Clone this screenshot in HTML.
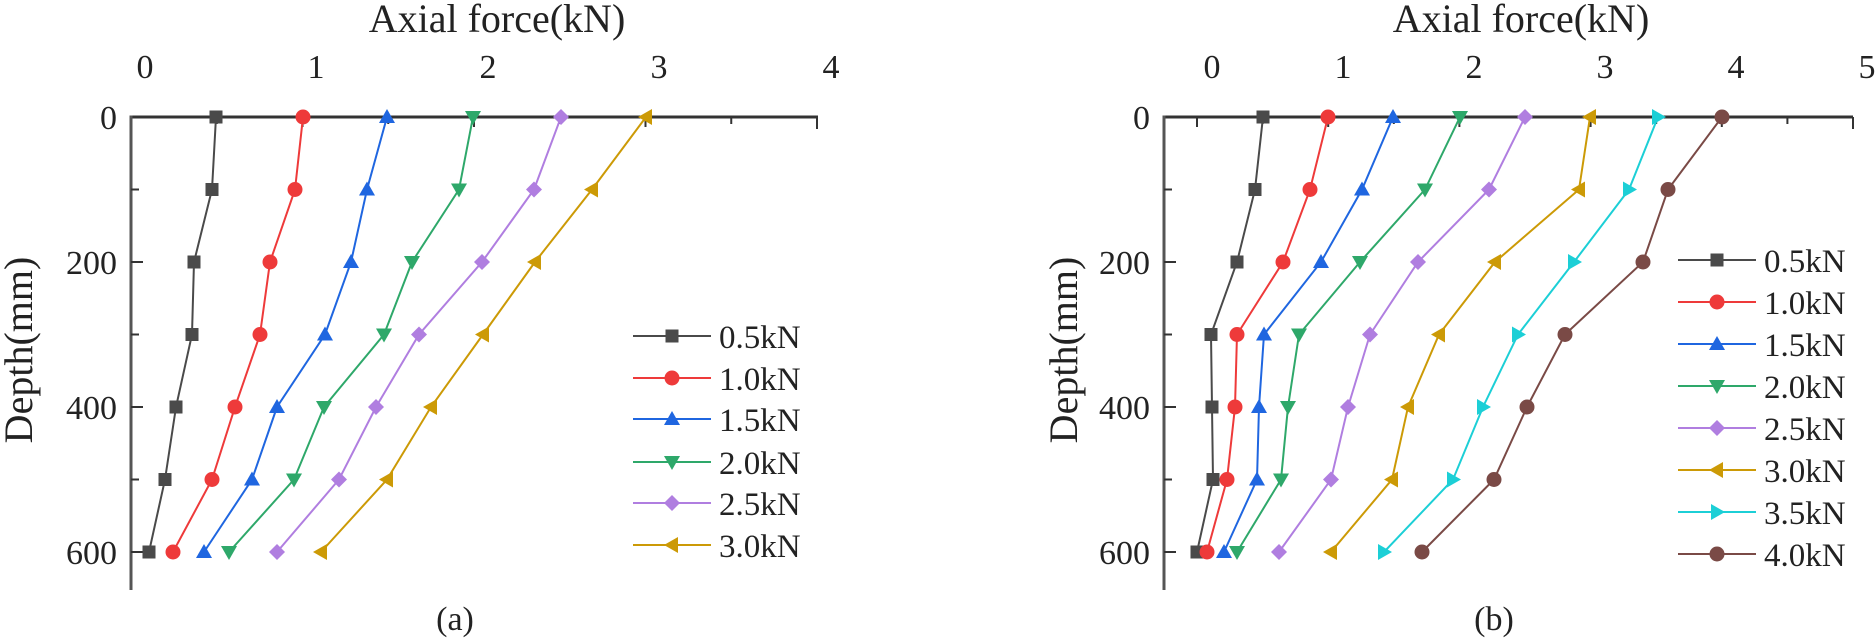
<!DOCTYPE html>
<html><head><meta charset="utf-8"><style>
html,body{margin:0;padding:0;background:#fff;}
svg{display:block;}
text{font-family:"Liberation Serif",serif;fill:#222;}
</style></head><body>
<svg id="s" width="1876" height="638" viewBox="0 0 1876 638" xmlns="http://www.w3.org/2000/svg">
<g font-size="40" text-anchor="middle">
<text x="497" y="32">Axial force(kN)</text>
<text x="1521" y="32">Axial force(kN)</text>
<text transform="translate(32,350) rotate(-90)">Depth(mm)</text>
<text transform="translate(1077,350) rotate(-90)">Depth(mm)</text>
<text x="455" y="630" font-size="34">(a)</text>
<text x="1494" y="630" font-size="34">(b)</text>
</g>
<g font-size="34" text-anchor="middle">
<text x="145" y="78">0</text><text x="316" y="78">1</text><text x="488" y="78">2</text><text x="659" y="78">3</text><text x="831" y="78">4</text>
<text x="1212" y="78">0</text><text x="1343" y="78">1</text><text x="1474" y="78">2</text><text x="1605" y="78">3</text><text x="1736" y="78">4</text><text x="1867" y="78">5</text>
</g>
<g font-size="34" text-anchor="end">
<text x="117" y="129">0</text><text x="117" y="274">200</text><text x="117" y="419">400</text><text x="117" y="564">600</text>
<text x="1150" y="129">0</text><text x="1150" y="274">200</text><text x="1150" y="419">400</text><text x="1150" y="564">600</text>
</g>
<g font-size="33">
<text x="719" y="348">0.5kN</text><text x="719" y="390">1.0kN</text><text x="719" y="431">1.5kN</text><text x="719" y="474">2.0kN</text><text x="719" y="515">2.5kN</text><text x="719" y="557">3.0kN</text>
<text x="1764" y="272">0.5kN</text><text x="1764" y="314">1.0kN</text><text x="1764" y="356">1.5kN</text><text x="1764" y="398">2.0kN</text><text x="1764" y="440">2.5kN</text><text x="1764" y="482">3.0kN</text><text x="1764" y="524">3.5kN</text><text x="1764" y="566">4.0kN</text>
</g>
<g id="g"></g>
</svg>
<script>
var g=document.getElementById('g'),NS='http://www.w3.org/2000/svg';
function el(t,a){var e=document.createElementNS(NS,t);for(var k in a)e.setAttribute(k,a[k]);g.appendChild(e);return e;}
function Y(d){return 117+d*0.725;}
var cols=['#4a4a4a','#ee3a3a','#1f66e0','#2ea86a','#b07ee0','#cc9a06','#1ccfd6','#7a4a46'];
var mk=['sq','ci','up','dn','di','lt','rt','ci'];
function marker(t,x,y,c){
 var s=8;
 if(t=='sq')el('rect',{x:x-6.5,y:y-6.5,width:13,height:13,fill:c});
 else if(t=='ci')el('circle',{cx:x,cy:y,r:7.5,fill:c});
 else{var p;
  if(t=='up')p=[[x,y-s],[x+s,y+6],[x-s,y+6]];
  if(t=='dn')p=[[x,y+s],[x+s,y-6],[x-s,y-6]];
  if(t=='di')p=[[x,y-s],[x+s,y],[x,y+s],[x-s,y]];
  if(t=='lt')p=[[x-s,y],[x+6,y-s],[x+6,y+s]];
  if(t=='rt')p=[[x+s,y],[x-6,y-s],[x-6,y+s]];
  el('polygon',{points:p.map(function(q){return q.join(',')}).join(' '),fill:c});}
}
function axes(L,x0,sc,xmax,R){
 el('line',{x1:L,y1:Y(0),x2:R,y2:Y(0),stroke:'#333','stroke-width':3});
 el('line',{x1:L,y1:Y(0)-1.5,x2:L,y2:590,stroke:'#555','stroke-width':3});
 for(var d=100;d<=600;d+=100){el('line',{x1:L,y1:Y(d),x2:L+(d%200?8:12),y2:Y(d),stroke:'#333','stroke-width':2});}
 for(var v=0;v<=xmax+0.01;v+=0.5){var x=x0+v*sc;if(x<L+2)continue;el('line',{x1:x,y1:Y(0),x2:x,y2:Y(0)+(v==xmax?12:(v%1?7:10)),stroke:'#333','stroke-width':2});}
}
axes(131,131,171.5,4,818);
axes(1164,1197,131.2,5,1853);
var A=[[216,212,194,192,176,165,149],[303,295,270,260,235,212,173],[387,367,351,325,277,252,204],[473,459,412,384,324,294,229],[561,534,482,419,376,339,277],[646,592,535,483,431,387,321]];
var B=[[1263,1255,1237,1211,1212,1213,1197],[1328,1310,1283,1237,1235,1227,1207],[1393,1362,1321,1264,1259,1257,1224],[1460,1425,1360,1299,1288,1281,1237],[1525,1489,1418,1370,1348,1331,1279],[1590,1579,1495,1439,1408,1392,1331],[1658,1629,1574,1518,1483,1453,1384],[1722,1668,1643,1565,1527,1494,1422]];
function series(S){S.forEach(function(r,i){
 el('polyline',{points:r.map(function(x,j){return x+','+Y(j*100)}).join(' '),fill:'none',stroke:cols[i],'stroke-width':2});
 r.forEach(function(x,j){marker(mk[i],x,Y(j*100),cols[i]);});});}
series(A);series(B);
var la=[336,378,419,462,503,545];
la.forEach(function(y,i){el('line',{x1:633,y1:y,x2:711,y2:y,stroke:cols[i],'stroke-width':2});marker(mk[i],672,y,cols[i]);});
var lb=[260,302,344,386,428,470,512,554];
lb.forEach(function(y,i){el('line',{x1:1678,y1:y,x2:1756,y2:y,stroke:cols[i],'stroke-width':2});marker(mk[i],1717,y,cols[i]);});
</script>
</body></html>
